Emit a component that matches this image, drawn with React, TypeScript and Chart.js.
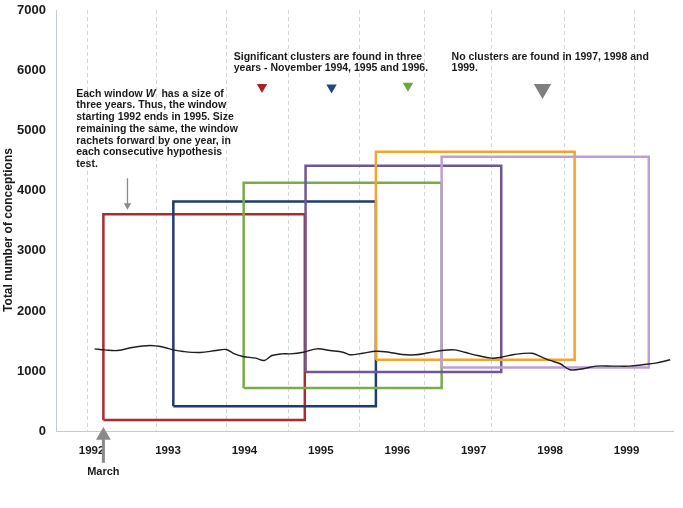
import React, { useEffect, useRef } from 'react';
import { Chart, registerables } from 'chart.js';

Chart.register(...registerables);

// ---------- data ----------
const yearTicks = [1992, 1993, 1994, 1995, 1996, 1997, 1998, 1999];
const gridYears = [1991.95, 1992.85, 1993.76, 1994.58, 1995.5, 1996.35, 1997.23, 1998.19, 1999.1];
const xMin = 1991.535;
const xMax = 1999.607;

const seriesX = [
  1992.04, 1992.17, 1992.34, 1992.55, 1992.77, 1992.94, 1993.07, 1993.2, 1993.42, 1993.63,
  1993.76, 1993.87, 1993.98, 1994.15, 1994.26, 1994.36, 1994.49, 1994.6, 1994.77, 1994.95,
  1995.12, 1995.29, 1995.38, 1995.55, 1995.72, 1995.89, 1996.06, 1996.24, 1996.41, 1996.58,
  1996.75, 1996.88, 1997.05, 1997.23, 1997.36, 1997.53, 1997.76, 1997.87, 1998.0, 1998.13,
  1998.26, 1998.43, 1998.6, 1998.82, 1999.04, 1999.21, 1999.38, 1999.57,
];
const conceptions = [
  1373, 1356, 1345, 1400, 1427, 1400, 1356, 1328, 1312, 1345,
  1361, 1290, 1246, 1218, 1180, 1262, 1290, 1290, 1317, 1373,
  1345, 1317, 1274, 1300, 1333, 1317, 1279, 1274, 1307, 1345,
  1356, 1317, 1262, 1218, 1234, 1279, 1300, 1246, 1180, 1125,
  1026, 1043, 1086, 1086, 1086, 1109, 1135, 1191,
];

const windowStart = [1992.155, 1993.07, 1993.99, 1994.8, 1995.72, 1996.58];
const windowEnd = [1994.79, 1995.72, 1996.58, 1997.36, 1998.32, 1999.29];
const windowTop = [3606, 3820, 4133, 4414, 4645, 4563];
const windowBottom = [190, 421, 723, 987, 1191, 1064];
const windowColors = ['#ad2a2e', '#1f3c6e', '#79ab47', '#6e5793', '#f4a42a', '#bd9fd6'];

const markerX = [1994.23, 1995.14, 1996.14, 1997.9];
const markerY = [5723, 5712, 5742, 5690];
const markerColors = ['#a82228', '#1f4788', '#6ea441', '#7f7f7f'];
const markerSizes = [6, 6, 6, 10];

const noteArrowX = 1992.47;
const noteArrowY = [4205, 3756];
const marchX = 1992.155;
const marchArrowY = [-520, -66];

const noteLines = [
  'three years. Thus, the window',
  'starting 1992 ends in 1995. Size',
  'remaining the same, the window',
  'rachets forward by one year, in',
  'each consecutive hypothesis',
  'test.',
];
const sigLines = ['Significant clusters are found in three', 'years - November 1994, 1995 and 1996.'];
const noLines = ['No clusters are found in 1997, 1998 and', '1999.'];

const FONT = '"Liberation Sans", Arial, sans-serif';

const notesPlugin = {
  id: 'notes',
  afterDatasetsDraw(chart: any) {
    const { ctx, scales } = chart;
    const x = scales.x;
    const y = scales.y;
    ctx.save();
    ctx.fillStyle = '#1a1a1a';
    ctx.textBaseline = 'middle';
    ctx.textAlign = 'left';
    const lh = 11.7;
    // note 1
    let px = x.getPixelForValue(1991.8);
    let py = y.getPixelForValue(5607);
    ctx.font = 'bold 10.5px ' + FONT;
    let cx = px;
    const p1 = 'Each window ';
    ctx.fillText(p1, cx, py);
    cx += ctx.measureText(p1).width;
    ctx.font = 'italic bold 10.5px ' + FONT;
    ctx.fillText('W', cx, py);
    cx += ctx.measureText('W').width;
    ctx.font = 'bold 10.5px ' + FONT;
    ctx.fillText('  has a size of', cx, py);
    noteLines.forEach((l, i) => ctx.fillText(l, px, py + (i + 1) * lh));
    // significant
    px = x.getPixelForValue(1993.86);
    py = y.getPixelForValue(6224);
    sigLines.forEach((l, i) => ctx.fillText(l, px, py + i * 11.4));
    // no clusters
    px = x.getPixelForValue(1996.71);
    noLines.forEach((l, i) => ctx.fillText(l, px, py + i * 11.4));
    // March
    ctx.font = 'bold 11px ' + FONT;
    ctx.textAlign = 'center';
    ctx.fillText('March', x.getPixelForValue(marchX), y.getPixelForValue(-668));
    // y title
    ctx.font = 'bold 12px ' + FONT;
    ctx.translate(9, 230);
    ctx.rotate(-Math.PI / 2);
    ctx.fillText('Total number of conceptions', 0, 0);
    ctx.restore();
  },
};

export default function App() {
  const ref = useRef<HTMLCanvasElement | null>(null);
  useEffect(() => {
    if (!ref.current) return;
    const rects = windowStart.map((s, i) => ({
      type: 'line',
      data: [
        { x: s, y: windowBottom[i] },
        { x: s, y: windowTop[i] },
        { x: windowEnd[i], y: windowTop[i] },
        { x: windowEnd[i], y: windowBottom[i] },
        { x: s, y: windowBottom[i] },
      ],
      borderColor: windowColors[i],
      borderWidth: 2.5,
      borderJoinStyle: 'miter',
      pointRadius: 0,
      tension: 0,
      fill: false,
      order: 10 - i,
    }));
    const chart = new Chart(ref.current, {
      type: 'line',
      data: {
        datasets: [
          {
            data: seriesX.map((v, i) => ({ x: v, y: conceptions[i] })),
            borderColor: '#1e1e1e',
            borderWidth: 1.4,
            pointRadius: 0,
            tension: 0.35,
            order: 0,
          },
          ...rects,
          {
            data: markerX.map((v, i) => ({ x: v, y: markerY[i] })),
            showLine: false,
            pointStyle: 'triangle',
            pointRotation: 180,
            pointRadius: markerSizes,
            pointBackgroundColor: markerColors,
            pointBorderWidth: 0,
            order: 0,
          },
          {
            data: noteArrowY.map((v) => ({ x: noteArrowX, y: v })),
            borderColor: '#8c8c8c',
            borderWidth: 1.3,
            pointStyle: 'triangle',
            pointRotation: 180,
            pointRadius: [0, 4.3],
            pointBackgroundColor: '#8c8c8c',
            pointBorderWidth: 0,
            order: 0,
          },
          {
            data: marchArrowY.map((v) => ({ x: marchX, y: v })),
            borderColor: '#8a8a8a',
            borderWidth: 3,
            pointStyle: 'triangle',
            pointRotation: 0,
            pointRadius: [0, 8.5],
            pointBackgroundColor: '#8a8a8a',
            pointBorderWidth: 0,
            clip: false,
            order: 0,
          },
        ] as any,
      },
      options: {
        animation: false,
        responsive: true,
        maintainAspectRatio: false,
        events: [],
        layout: { padding: { top: 6, right: 2, left: 0, bottom: 0 } },
        plugins: { legend: { display: false }, tooltip: { enabled: false } },
        scales: {
          x: {
            type: 'linear',
            min: xMin,
            max: xMax,
            afterBuildTicks: (s: any) => {
              s.ticks = yearTicks.map((v) => ({ value: v }));
            },
            afterFit: (s: any) => {
              s.height = 76.5;
              s.paddingLeft = 0;
              s.paddingRight = 0;
            },
            grid: { display: false, drawTicks: false },
            border: { display: true, color: '#c3c8da', width: 1 },
            ticks: {
              padding: 12,
              color: '#1a1a1a',
              maxRotation: 0,
              autoSkip: false,
              font: { family: FONT, size: 11.5, weight: 'bold' },
              callback: (v: any) => String(v),
            },
          },
          xg: {
            type: 'linear',
            position: 'bottom',
            min: xMin,
            max: xMax,
            afterBuildTicks: (s: any) => {
              s.ticks = gridYears.map((v) => ({ value: v }));
            },
            afterFit: (s: any) => {
              s.height = 0;
              s.paddingLeft = 0;
              s.paddingRight = 0;
            },
            ticks: { display: false },
            grid: { color: '#d6d6d6', lineWidth: 1, drawTicks: false },
            border: { display: false, dash: [4, 3] },
          },
          y: {
            min: 0,
            max: 7000,
            afterFit: (s: any) => {
              s.width = 56;
              s.paddingTop = 0;
              s.paddingBottom = 0;
            },
            grid: { display: false, drawTicks: false },
            border: { display: true, color: '#c3c8da', width: 1 },
            ticks: {
              stepSize: 1000,
              padding: 10,
              color: '#1a1a1a',
              font: { family: FONT, size: 13, weight: 'bold' },
              callback: (v: any) => String(v),
            },
          },
        },
      } as any,
      plugins: [notesPlugin],
    });
    return () => chart.destroy();
  }, []);
  return (
    <div style={{ position: 'absolute', left: 0, top: 0, width: 683, height: 508, background: '#fff' }}>
      <canvas ref={ref} />
    </div>
  );
}
